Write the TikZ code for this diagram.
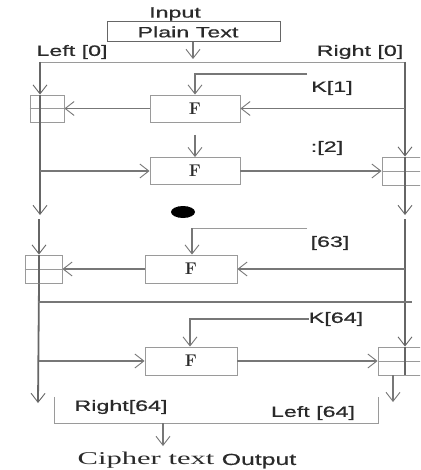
\documentclass[tikz,border=0pt]{standalone}
\usepackage{fontspec}
\usetikzlibrary{arrows.meta,shapes.geometric}
\newfontfamily\lblfont[FakeStretch=1.55,FakeBold=0.6]{Liberation Sans}
\newfontfamily\cphfont[FakeStretch=1.7]{Liberation Serif}
\definecolor{mainln}{HTML}{666666}
\definecolor{thinln}{HTML}{777777}
\definecolor{boxln}{HTML}{9A9A9A}
\definecolor{txt}{HTML}{2A2A2A}
\tikzset{
  arr/.style={-{Straight Barb[length=9pt,width=14pt,line width=0.9pt]}},
  mainline/.style={draw=mainln, line width=1.8pt},
  thinline/.style={draw=thinln, line width=1.1pt},
  fbox/.style={draw=boxln, line width=0.9pt, minimum width=90pt, minimum height=27pt, inner sep=0pt,
     font=\fontsize{17}{19}\selectfont\bfseries, text=txt},
  xbox/.style={draw=boxln, line width=0.9pt, inner sep=0pt},
  lbl/.style={font=\lblfont\fontsize{15}{17}\selectfont, text=txt, inner sep=0pt},
}
\begin{document}
\begin{tikzpicture}[x=1pt,y=-1pt]
\useasboundingbox (0,0) rectangle (420,470);
\clip (0,0) rectangle (420,470);
\fill[white] (0,0) rectangle (420,470);

% top input
\node[lbl] (inp) at (175,14) {Input};
\node[draw=mainln, line width=1pt, minimum width=173pt, minimum height=20pt, inner sep=0pt] (pt) at (193.5,32) {};
\node[lbl] (ptt) at (188,32) {Plain Text};
\node[lbl] (l0) at (72,52) {Left [0]};
\node[lbl] (r0) at (360,52) {Right [0]};
\coordinate (ptend) at (193,59);
\draw[thinline,arr] (pt.south -| ptend) -- (ptend);
\coordinate (tl) at (40,62);
\coordinate (tr) at (405,62);
\draw[draw=boxln, line width=0.8pt] (tl) -- (tr);

% boxes
\node[fbox] (f1) at (195,108.5) {F};
\node[fbox] (f2) at (195,171) {F};
\node[fbox, minimum width=92pt, minimum height=28pt] (f3) at (191,269) {F};
\node[fbox, minimum width=92pt, minimum height=28pt] (f4) at (191,361) {F};

\node[xbox, minimum width=34pt, minimum height=27pt] (x1) at (47,108.5) {};
\node[xbox, minimum width=46pt, minimum height=28pt] (x2) at (405,171) {};
\node[xbox, minimum width=37pt, minimum height=28pt] (x3) at (43.5,269) {};
\node[xbox, minimum width=52pt, minimum height=28pt] (x4) at (404,361) {};
\draw[draw=boxln, line width=0.6pt] (x1.west) -- (x1.east);
\draw[draw=boxln, line width=0.6pt] (x2.west) -- (x2.east);
\draw[draw=boxln, line width=0.6pt] (x3.west) -- (x3.east);
\draw[draw=boxln, line width=0.6pt] (x4.west) -- (x4.east);

% left main line
\coordinate (lA) at (40,215);
\coordinate (lB) at (39,219);
\coordinate (lC) at (38,403);
\draw[mainline,arr] (tl) -- (tl |- x1.north);
\draw[mainline] (tl |- x1.north) -- (tl |- x1.south);
\draw[mainline,arr] (tl |- x1.south) -- (lA);
\draw[mainline,arr] (lB) -- (lB |- x3.north);
\draw[mainline] (lB |- x3.north) -- (lB |- x3.south);
\draw[mainline,arr] (lB |- x3.south) -- (lC);

% right main line
\coordinate (rA) at (405,215);
\coordinate (rB) at (405,219);
\draw[mainline] (tr) -- (tr |- f1);
\draw[mainline,arr] (tr |- f1) -- (tr |- x2.north);
\draw[mainline] (tr |- x2.north) -- (tr |- x2.south);
\draw[mainline,arr] (tr |- x2.south) -- (rA);
\draw[mainline,arr] (rB) -- (rB |- x4.north);
\draw[mainline] (rB |- x4.north) -- (rB |- x4.south);

% round 1
\coordinate (k1) at (307,74);
\node[lbl] (k1t) at (332,88) {K[1]};
\draw[thinline,arr] (k1) -- (k1 -| f1.north) -- (f1.north);
\draw[thinline,arr] (tr |- f1) -- (f1.east);
\draw[thinline,arr] (f1.west) -- (x1.east);

% round 2
\coordinate (k2) at (195,135);
\node[lbl] (k2t) at (327,148) {:[2]};
\draw[thinline,arr] (k2) -- (f2.north);
\draw[thinline,arr] (tl |- f2) -- (f2.west);
\draw[thinline,arr] (f2.east) -- (x2.west);

% dot
\node[fill=black, ellipse, minimum width=24pt, minimum height=12pt, inner sep=0pt] (dot) at (183,212) {};

% round 63
\coordinate (k63) at (307,228);
\coordinate (k63c) at (192,228);
\node[lbl] (k63t) at (330,243) {[63]};
\draw[draw=boxln, line width=0.8pt] (k63) -- (k63c);
\draw[thinline,arr] (k63c) -- (k63c |- f3.north);
\draw[thinline,arr] (tr |- f3) -- (f3.east);
\draw[thinline,arr] (f3.west) -- (x3.east);

% separator
\coordinate (sL) at (38,302);
\coordinate (sR) at (412,302);
\draw[thinline] (sL) -- (sR);

% round 64
\node[lbl] (k64t) at (336,319) {K[64]};
\coordinate (k64c) at (190,319);
\draw[thinline,arr] (k64t.west) -- (k64c) -- (k64c |- f4.north);
\draw[thinline,arr] (lB |- f4) -- (f4.west);
\draw[thinline,arr] (f4.east) -- (x4.west);
\coordinate (x4o) at (393,402);
\draw[thinline,arr] (x4o |- x4.south) -- (x4o);

% output
\node[minimum width=323pt, minimum height=26pt, inner sep=0pt] (ob) at (216.5,410) {};
\draw[draw=boxln, line width=0.9pt] (ob.north west) -- (ob.south west) -- (ob.south east) -- (ob.north east);
\node[lbl] (r64) at (121,407) {Right[64]};
\node[lbl] (l64) at (313,413) {Left [64]};
\node[font=\cphfont\fontsize{18}{20}\selectfont, text=txt, inner sep=0pt] (ct) at (146,460) {Cipher text};
\node[lbl, font=\lblfont\fontsize{16}{18}\selectfont] (op) at (259,461) {Output};
\coordinate (oA) at (163,423);
\coordinate (oB) at (163,446);
\draw[thinline,arr] (oA) -- (oB);
\end{tikzpicture}
\end{document}
